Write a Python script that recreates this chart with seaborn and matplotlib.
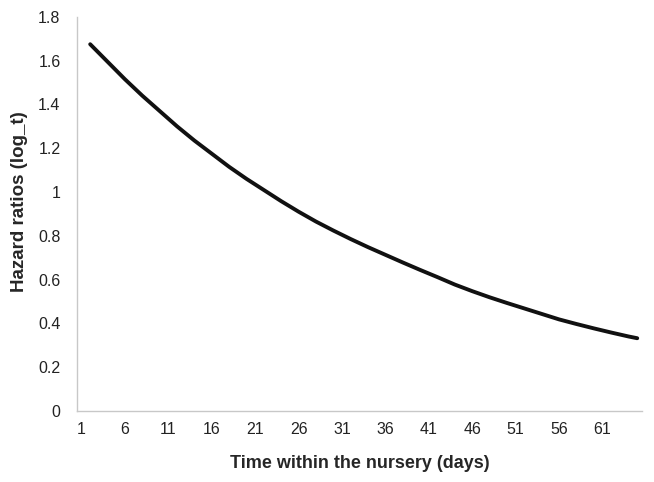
import matplotlib
matplotlib.use("Agg")
import matplotlib.pyplot as plt
import matplotlib.ticker as mticker
import pandas as pd
import seaborn as sns

# values
days = [2, 4, 6, 8, 10, 12, 14, 16, 18, 20, 22, 24, 26, 28, 30, 32, 34,
        36, 38, 40, 42, 44, 46, 48, 50, 52, 54, 56, 58, 60, 62, 64, 65]
hazard = [1.675, 1.595, 1.515, 1.44, 1.37, 1.30, 1.235, 1.175, 1.115, 1.06, 1.009,
          0.958, 0.91, 0.865, 0.824, 0.785, 0.748, 0.713, 0.678, 0.644, 0.611,
          0.577, 0.547, 0.519, 0.493, 0.468, 0.443, 0.418, 0.397, 0.377, 0.358,
          0.34, 0.332]
x_ticks = [1, 6, 11, 16, 21, 26, 31, 36, 41, 46, 51, 56, 61]
y_ticks = [0, 0.2, 0.4, 0.6, 0.8, 1.0, 1.2, 1.4, 1.6, 1.8]

df = pd.DataFrame({"day": days, "hr": hazard})

sns.set_style("white")
plt.rcParams["font.family"] = ["Liberation Sans", "DejaVu Sans"]

fig = plt.figure(figsize=(6.54, 4.82), dpi=100)
ax = fig.add_axes([0.118, 0.1475, 0.863, 0.8175])

sns.lineplot(data=df, x="day", y="hr", color="#111111", linewidth=2.8, ax=ax,
             solid_capstyle="round", solid_joinstyle="round")

ax.set_xlim(0.5, 65.5)
ax.set_ylim(0, 1.8)
ax.set_xticks(x_ticks)
ax.set_yticks(y_ticks)
ax.yaxis.set_major_formatter(mticker.FuncFormatter(lambda v, p: f"{v:g}"))

for s in ["top", "right"]:
    ax.spines[s].set_visible(False)
for s in ["left", "bottom"]:
    ax.spines[s].set_color("#c8c8c8")
    ax.spines[s].set_linewidth(1.0)

ax.tick_params(axis="y", length=4, width=1, color="#c8c8c8", labelsize=11.5, pad=8, labelcolor="#222222")
ax.tick_params(axis="x", length=0, labelsize=11.5, pad=8, labelcolor="#222222")

ax.set_xlabel("Time within the nursery (days)", fontsize=13, fontweight="bold", labelpad=13)
ax.set_ylabel("Hazard ratios (log_t)", fontsize=13.5, fontweight="bold")
ax.yaxis.set_label_coords(-0.087, 0.53)

fig.savefig("out.png", dpi=100)
